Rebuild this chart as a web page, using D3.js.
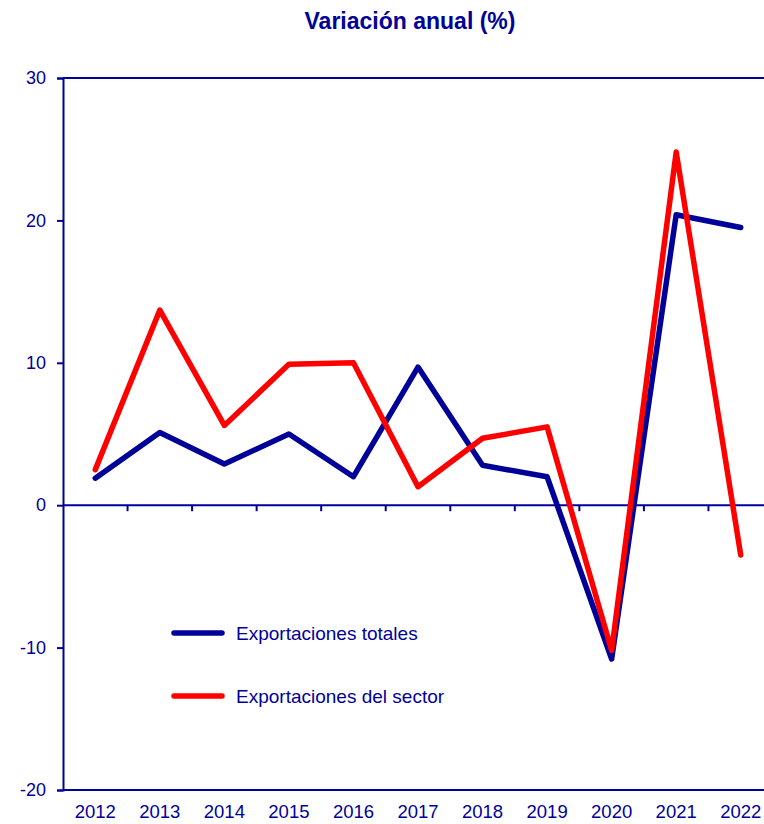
<!DOCTYPE html>
<html>
<head>
<meta charset="utf-8">
<script src="https://cdn.jsdelivr.net/npm/d3@7"></script>
<style>
  body { margin: 0; background: #fff; }
  svg text { font-family: "Liberation Sans", Arial, sans-serif; fill: #000099; }
</style>
</head>
<body>
<div id="chart"></div>
<script>
// Data
const years = ["2012", "2013", "2014", "2015", "2016", "2017", "2018", "2019", "2020", "2021", "2022"];
const totales = [1.9, 5.1, 2.9, 5.0, 2.0, 9.7, 2.8, 2.0, -10.8, 20.4, 19.5];
const sector = [2.5, 13.7, 5.6, 9.9, 10.0, 1.3, 4.7, 5.5, -10.2, 24.8, -3.5];
const yTicks = [-20, -10, 0, 10, 20, 30];

const navy = "#000099";
const red = "#ff0000";

const width = 764;
const height = 824;
const marginTop = 78;
const marginRight = -9;
const marginBottom = 34;
const marginLeft = 63;

const x = d3.scaleBand()
    .domain(years)
    .range([marginLeft, width - marginRight]);

const y = d3.scaleLinear()
    .domain([-20, 30])
    .range([height - marginBottom, marginTop]);

const svg = d3.create("svg")
    .attr("width", width)
    .attr("height", height)
    .attr("viewBox", [0, 0, width, height]);

// Title
svg.append("text")
    .attr("x", 410)
    .attr("y", 29)
    .attr("text-anchor", "middle")
    .style("font-size", "23px")
    .style("font-weight", "bold")
    .text("Variación anual (%)");

// Top and bottom frame lines
[30, -20].forEach(v => {
    svg.append("line")
        .attr("x1", marginLeft).attr("x2", width)
        .attr("y1", y(v)).attr("y2", y(v))
        .attr("stroke", navy).attr("stroke-width", 2);
});

// Left axis
const yAxis = svg.append("g")
    .attr("transform", `translate(${marginLeft},0)`)
    .call(d3.axisLeft(y).tickValues(yTicks).tickSize(6).tickPadding(11).tickFormat(d => String(d)));
yAxis.select(".domain").attr("stroke", navy).attr("stroke-width", 2);
yAxis.selectAll(".tick line").attr("stroke", navy).attr("stroke-width", 2);
yAxis.selectAll(".tick text")
    .style("font-size", "18px")
    .attr("font-family", null)
    .attr("fill", navy);

// Zero axis with ticks between categories
const xAxisZero = svg.append("g")
    .attr("transform", `translate(0,${y(0)})`);
xAxisZero.append("line")
    .attr("x1", marginLeft).attr("x2", width)
    .attr("stroke", navy).attr("stroke-width", 2);
xAxisZero.selectAll(".sep")
    .data(years.slice(1))
    .join("line")
    .attr("class", "sep")
    .attr("x1", d => x(d)).attr("x2", d => x(d))
    .attr("y1", 0).attr("y2", 6)
    .attr("stroke", navy).attr("stroke-width", 2);

// Category labels under the plot
const xAxis = svg.append("g")
    .attr("transform", `translate(0,${height - marginBottom})`)
    .call(d3.axisBottom(x).tickSize(0).tickPadding(15));
xAxis.select(".domain").remove();
xAxis.selectAll(".tick text")
    .style("font-size", "18.5px")
    .attr("font-family", null)
    .attr("fill", navy);

// Lines
const line = d3.line()
    .x((d, i) => x(years[i]) + x.bandwidth() / 2)
    .y(d => y(d));

const series = [
    { name: "Exportaciones totales", values: totales, color: navy },
    { name: "Exportaciones del sector", values: sector, color: red }
];

svg.append("g")
    .selectAll("path")
    .data(series)
    .join("path")
    .attr("d", d => line(d.values))
    .attr("fill", "none")
    .attr("stroke", d => d.color)
    .attr("stroke-width", 5.5)
    .attr("stroke-linecap", "round")
    .attr("stroke-linejoin", "round");

// Legend
const legend = svg.append("g")
    .selectAll("g")
    .data(series)
    .join("g")
    .attr("transform", (d, i) => `translate(174,${633 + i * 63})`);

legend.append("line")
    .attr("x1", 0).attr("x2", 48)
    .attr("stroke", d => d.color)
    .attr("stroke-width", 5.5)
    .attr("stroke-linecap", "round");

legend.append("text")
    .attr("x", 62)
    .attr("y", 7)
    .style("font-size", "19px")
    .text(d => d.name);

document.getElementById("chart").appendChild(svg.node());
</script>
</body>
</html>
